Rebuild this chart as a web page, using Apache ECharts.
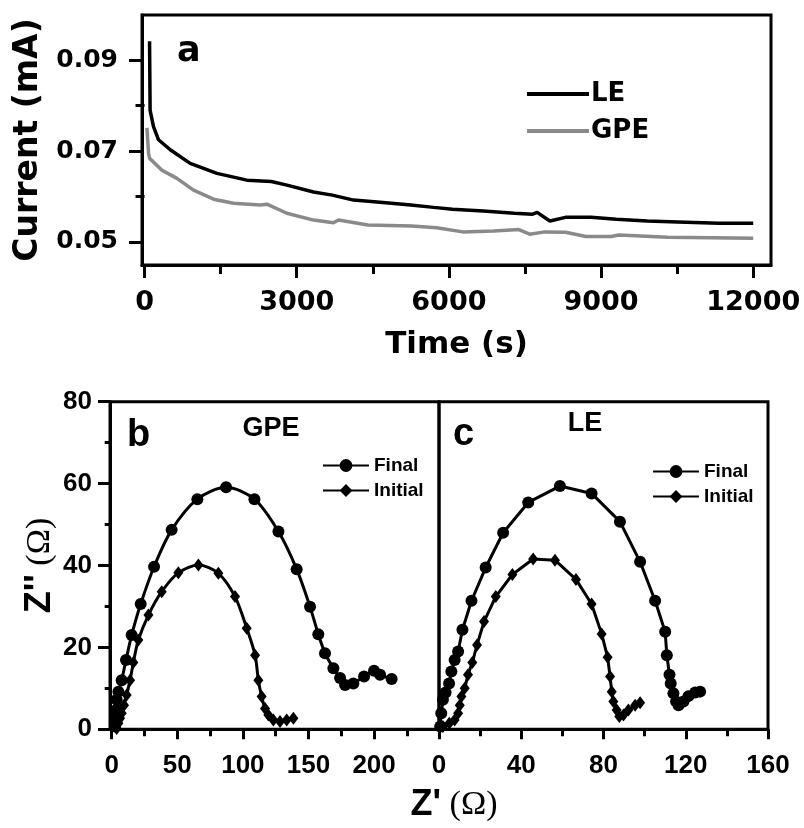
<!DOCTYPE html>
<html><head><meta charset="utf-8">
<script src="https://cdn.jsdelivr.net/npm/echarts@6/dist/echarts.min.js"></script>
<style>html,body{margin:0;padding:0;background:#fff}#c{width:804px;height:828px}</style>
</head><body><div id="c"></div>
<script>
// ---- Panel a: chronoamperometry ----
const timeLE = [99, 110, 177, 276, 507, 900, 1427, 2018, 2500, 2807, 3331, 3700, 4120, 4700, 5250, 5700, 6070, 6680, 7290, 7650, 7740, 7990, 8300, 8800, 9300, 9910, 10510, 11320, 12000];
const currentLE = [0.0942, 0.0790, 0.0754, 0.0725, 0.0703, 0.0673, 0.0651, 0.0636, 0.0633, 0.0625, 0.0610, 0.0603, 0.0592, 0.0587, 0.0581, 0.0576, 0.0572, 0.0568, 0.0563, 0.0561, 0.0565, 0.0546, 0.0554, 0.0554, 0.0550, 0.0546, 0.0544, 0.0541, 0.0541];
const timeGPE = [47, 79, 100, 343, 639, 966, 1360, 1754, 2280, 2411, 2807, 3331, 3725, 3824, 4400, 5260, 5760, 6270, 6880, 7380, 7590, 7890, 8300, 8700, 9200, 9350, 10310, 12000];
const currentGPE = [0.0751, 0.0695, 0.0684, 0.0658, 0.0640, 0.0614, 0.0594, 0.0585, 0.0581, 0.0583, 0.0563, 0.0548, 0.0542, 0.0548, 0.0537, 0.0535, 0.0531, 0.0522, 0.0524, 0.0527, 0.0517, 0.0522, 0.0521, 0.0512, 0.0512, 0.0515, 0.0510, 0.0508];
const timeTicks = [0, 3000, 6000, 9000, 12000];
const timeMinorTicks = [1500, 4500, 7500, 10500];
const currentTicks = [0.05, 0.07, 0.09];
const currentMinorTicks = [0.06, 0.08];

// ---- Panel b: GPE impedance ----
const gpeFinalRe = [2.5, 2.5, 3.3, 3.8, 5.1, 7.6, 10.9, 15.2, 22.1, 32.3, 45.7, 65.3, 87.2, 108.8, 127.1, 141.0, 151.2, 157.5, 162.6, 169.0, 174.1, 177.9, 184.2, 192.4, 200.0, 204.6, 213.4];
const gpeFinalIm = [0.7, 2.3, 4.7, 7.2, 9.2, 12.0, 16.9, 23.0, 30.6, 39.7, 48.7, 56.2, 59.1, 56.2, 48.3, 39.1, 29.9, 23.2, 18.6, 14.9, 12.5, 10.8, 11.2, 12.9, 14.3, 13.3, 12.3];
const gpeInitialRe = [3.8, 5.1, 6.4, 7.6, 9.4, 11.4, 14.0, 16.5, 20.3, 28.0, 38.1, 50.8, 66.1, 81.3, 94.0, 102.9, 109.3, 111.8, 114.3, 116.9, 119.4, 123.2, 128.3, 133.4, 138.5];
const gpeInitialIm = [0.2, 1.5, 2.7, 3.9, 5.9, 8.4, 12.0, 16.3, 21.8, 27.9, 33.6, 38.2, 40.1, 38.1, 32.4, 24.7, 18.1, 12.0, 8.0, 5.1, 3.5, 2.3, 1.9, 2.3, 2.7];

// ---- Panel c: LE impedance ----
const leFinalRe = [0.6, 1.1, 1.9, 3.2, 4.9, 6.0, 7.6, 9.3, 11.4, 15.8, 22.7, 31.2, 43.4, 58.8, 74.2, 88.0, 97.8, 105.1, 110.0, 110.8, 112.1, 112.7, 114.0, 115.3, 116.5, 118.9, 121.3, 124.6, 127.0];
const leFinalIm = [0.7, 3.9, 7.2, 9.0, 11.2, 14.1, 16.9, 19.0, 24.3, 31.4, 39.5, 48.0, 55.4, 59.4, 57.6, 50.7, 40.9, 31.4, 23.8, 18.1, 13.3, 11.2, 8.8, 6.8, 5.9, 6.8, 8.1, 9.0, 9.2];
const leInitialRe = [1.9, 5.0, 7.6, 9.3, 10.1, 10.9, 12.5, 14.1, 16.2, 18.5, 21.9, 27.6, 35.7, 45.8, 56.4, 66.6, 74.2, 79.1, 82.0, 83.2, 84.0, 84.8, 86.4, 87.7, 89.7, 92.1, 95.4, 97.8];
const leInitialIm = [0.7, 1.5, 2.3, 3.9, 5.9, 8.0, 10.0, 13.3, 16.3, 20.6, 26.3, 32.4, 37.8, 41.6, 41.3, 36.6, 30.6, 23.3, 17.6, 12.9, 9.2, 6.8, 4.7, 3.1, 3.5, 4.7, 5.9, 6.5];

const reTicksB = [0, 50, 100, 150, 200];
const reMinorB = [25, 75, 125, 175, 225];
const reTicksC = [0, 40, 80, 120, 160];
const reMinorC = [20, 60, 100, 140];
const imTicks = [0, 20, 40, 60, 80];
const imMinor = [10, 30, 50, 70];

const zip = (a, b) => a.map((v, i) => [v, b[i]]);
const DV = "'DejaVu Sans', sans-serif";
const LS = "'Liberation Sans', Arial, sans-serif";
const SERIF = "'Liberation Serif', 'Times New Roman', serif";
const plain = v => String(v);

function mainX(grid, min, max, ticks, font, size, margin, tickLen) {
  return {
    type: 'value', gridIndex: grid, min: min, max: max, position: 'bottom',
    axisLine: { show: true, onZero: false, lineStyle: { color: '#000', width: 3 } },
    axisTick: { show: true, inside: false, length: tickLen, customValues: ticks, lineStyle: { color: '#000', width: 3 } },
    axisLabel: { show: true, customValues: ticks, margin: margin, color: '#000', fontFamily: font, fontWeight: 'bold', fontSize: size, formatter: plain },
    splitLine: { show: false }
  };
}
function minorX(grid, min, max, ticks, tickLen) {
  return {
    type: 'value', gridIndex: grid, min: min, max: max, position: 'bottom',
    axisLine: { show: false },
    axisTick: { show: true, inside: false, length: tickLen, customValues: ticks, lineStyle: { color: '#000', width: 3 } },
    axisLabel: { show: false }, splitLine: { show: false }
  };
}
function mainY(grid, min, max, ticks, font, size, margin, tickLen, fmt) {
  return {
    type: 'value', gridIndex: grid, min: min, max: max, position: 'left',
    axisLine: { show: true, onZero: false, lineStyle: { color: '#000', width: 3 } },
    axisTick: { show: true, inside: false, length: tickLen, customValues: ticks, lineStyle: { color: '#000', width: 3 } },
    axisLabel: { show: true, customValues: ticks, margin: margin, color: '#000', fontFamily: font, fontWeight: 'bold', fontSize: size, formatter: fmt || plain },
    splitLine: { show: false }
  };
}
function minorY(grid, min, max, ticks, tickLen) {
  return {
    type: 'value', gridIndex: grid, min: min, max: max, position: 'left',
    axisLine: { show: false },
    axisTick: { show: true, inside: false, length: tickLen, customValues: ticks, lineStyle: { color: '#000', width: 3 } },
    axisLabel: { show: false }, splitLine: { show: false }
  };
}

const chart = echarts.init(document.getElementById('c'), null, { renderer: 'canvas' });

const yA = mainY(0, 0.0449, 0.1, currentTicks, DV, 25, 24, 13, v => v.toFixed(2));
yA.name = 'Current (mA)';
yA.nameLocation = 'middle';
yA.nameGap = 90;
yA.nameTextStyle = { fontFamily: DV, fontWeight: 'bold', fontSize: 33, color: '#000' };

const xA = mainX(0, -50, 12350, timeTicks, DV, 27, 24, 13);
xA.name = 'Time (s)';
xA.nameLocation = 'middle';
xA.nameGap = 64;
xA.nameTextStyle = { fontFamily: DV, fontWeight: 'bold', fontSize: 31, color: '#000', verticalAlign: 'top' };

const yB = mainY(1, 0, 80, imTicks, LS, 26, 18, 12);
yB.name = "{z|Z''}{o| (Ω)}";
yB.nameLocation = 'middle';
yB.nameGap = 52;
yB.nameTextStyle = {
  color: '#000',
  rich: {
    z: { fontFamily: LS, fontWeight: 'bold', fontSize: 36, color: '#000' },
    o: { fontFamily: SERIF, fontSize: 34, color: '#000' }
  }
};

const option = {
  animation: false,
  backgroundColor: '#fff',
  grid: [
    { left: 142, right: 33, top: 15, bottom: 563, show: true, borderColor: '#000', borderWidth: 3, containLabel: false },
    { left: 110, width: 329, top: 401.7, bottom: 98.7, show: true, borderColor: '#000', borderWidth: 3, containLabel: false },
    { left: 439, right: 36, top: 401.7, bottom: 98.7, show: true, borderColor: '#000', borderWidth: 3, containLabel: false }
  ],
  xAxis: [
    xA,
    minorX(0, -50, 12350, timeMinorTicks, 9),
    mainX(1, -1.3, 249.5, reTicksB, LS, 26, 24, 10),
    minorX(1, -1.3, 249.5, reMinorB, 7),
    mainX(2, 0, 160, reTicksC, LS, 26, 24, 10),
    minorX(2, 0, 160, reMinorC, 7)
  ],
  yAxis: [
    yA,
    minorY(0, 0.0449, 0.1, currentMinorTicks, 9),
    yB,
    minorY(1, 0, 80, imMinor, 7),
    { type: 'value', gridIndex: 2, min: 0, max: 80, show: false }
  ],
  legend: [
    {
      data: [{ name: 'LE', icon: 'rect' }, { name: 'GPE', icon: 'rect' }], orient: 'vertical', left: 527, top: 81, padding: 0,
      itemWidth: 62, itemHeight: 4, itemGap: 11,
      textStyle: { fontFamily: DV, fontWeight: 'bold', fontSize: 26, color: '#000', padding: [0, 0, 0, -3] }
    },
    {
      data: ['Final', 'Initial'], orient: 'vertical', left: 322, top: 456, padding: 0,
      itemWidth: 46, itemHeight: 16, itemGap: 6,
      textStyle: { fontFamily: LS, fontWeight: 'bold', fontSize: 19, color: '#000' }
    },
    {
      data: ['Final', 'Initial'], orient: 'vertical', left: 652, top: 462, padding: 0,
      itemWidth: 46, itemHeight: 16, itemGap: 6,
      textStyle: { fontFamily: LS, fontWeight: 'bold', fontSize: 19, color: '#000' }
    }
  ],
  series: [
    { name: 'LE', type: 'line', xAxisIndex: 0, yAxisIndex: 0, data: zip(timeLE, currentLE), symbol: 'none', color: '#000', lineStyle: { color: '#000', width: 3.5 } },
    { name: 'GPE', type: 'line', xAxisIndex: 0, yAxisIndex: 0, data: zip(timeGPE, currentGPE), symbol: 'none', color: '#8a8a8a', lineStyle: { color: '#8a8a8a', width: 3.5 } },
    { name: 'Final', type: 'line', xAxisIndex: 2, yAxisIndex: 2, data: zip(gpeFinalRe, gpeFinalIm), smooth: 0.3, symbol: 'circle', symbolSize: 12, color: '#000', itemStyle: { color: '#000' }, lineStyle: { color: '#000', width: 3 } },
    { name: 'Initial', type: 'line', xAxisIndex: 2, yAxisIndex: 2, data: zip(gpeInitialRe, gpeInitialIm), smooth: 0.3, symbol: 'diamond', symbolSize: [10, 13], color: '#000', itemStyle: { color: '#000' }, lineStyle: { color: '#000', width: 3 } },
    { name: 'Final', type: 'line', xAxisIndex: 4, yAxisIndex: 4, data: zip(leFinalRe, leFinalIm), symbol: 'circle', symbolSize: 12, color: '#000', itemStyle: { color: '#000' }, lineStyle: { color: '#000', width: 3 } },
    { name: 'Initial', type: 'line', xAxisIndex: 4, yAxisIndex: 4, data: zip(leInitialRe, leInitialIm), symbol: 'diamond', symbolSize: [10, 13], color: '#000', itemStyle: { color: '#000' }, lineStyle: { color: '#000', width: 3 } }
  ],
  graphic: [
    { type: 'text', x: 177, y: 52, style: { text: 'a', fontFamily: DV, fontWeight: 'bold', fontSize: 35, fill: '#000', align: 'left', verticalAlign: 'middle' } },
    { type: 'text', x: 127, y: 436, style: { text: 'b', fontFamily: LS, fontWeight: 'bold', fontSize: 38, fill: '#000', align: 'left', verticalAlign: 'middle' } },
    { type: 'text', x: 453, y: 435, style: { text: 'c', fontFamily: LS, fontWeight: 'bold', fontSize: 38, fill: '#000', align: 'left', verticalAlign: 'middle' } },
    { type: 'text', x: 271, y: 429, style: { text: 'GPE', fontFamily: LS, fontWeight: 'bold', fontSize: 27, fill: '#000', align: 'center', verticalAlign: 'middle' } },
    { type: 'text', x: 585, y: 424, style: { text: 'LE', fontFamily: LS, fontWeight: 'bold', fontSize: 27, fill: '#000', align: 'center', verticalAlign: 'middle' } },
    { type: 'text', x: 454, y: 787, style: {
        text: "{z|Z'}{o| (Ω)}", align: 'center', verticalAlign: 'top',
        rich: {
          z: { fontFamily: LS, fontWeight: 'bold', fontSize: 36, fill: '#000', color: '#000' },
          o: { fontFamily: SERIF, fontSize: 34, fill: '#000', color: '#000' }
        }
      } }
  ]
};
chart.setOption(option);
</script>
</body></html>
